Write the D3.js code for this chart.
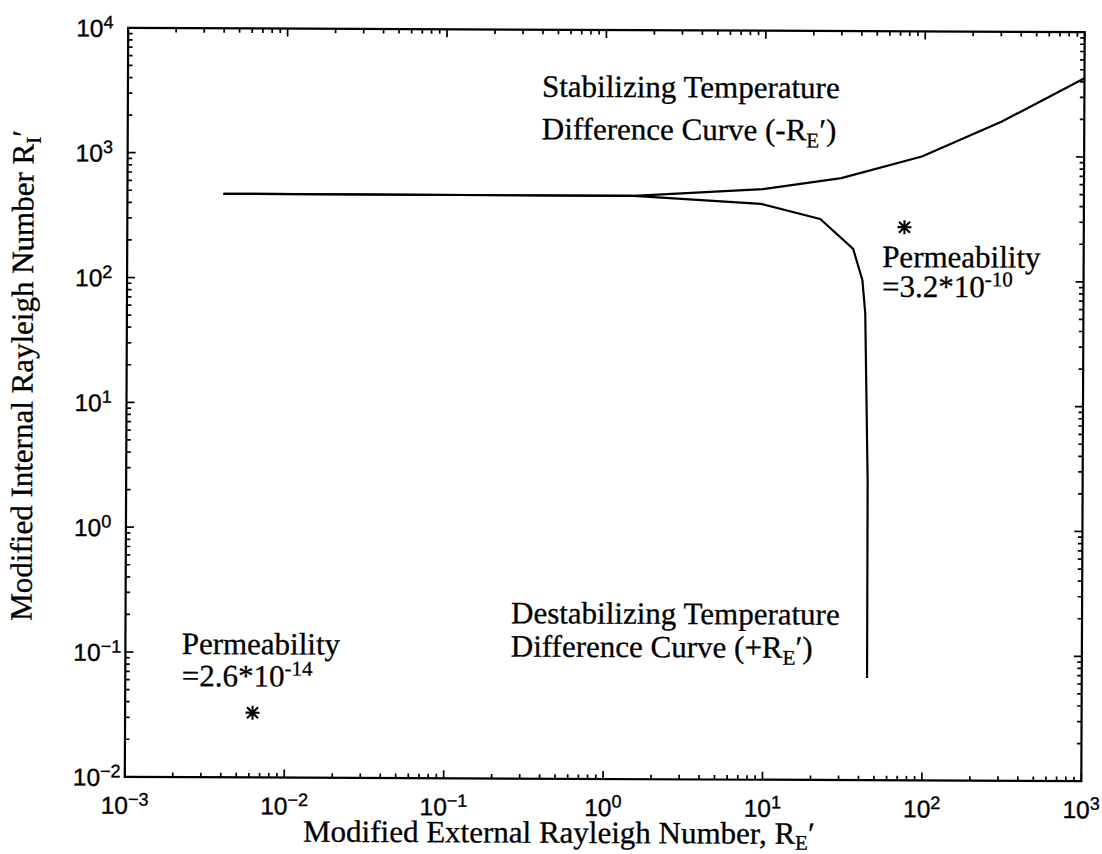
<!DOCTYPE html>
<html>
<head>
<meta charset="utf-8">
<script src="https://cdn.jsdelivr.net/npm/d3@7"></script>
<style>
  html, body { margin: 0; padding: 0; background: #fff; }
  svg { display: block; }
</style>
</head>
<body>
<script>
// Neutral-stability curves: modified internal vs. external Rayleigh number
const stabilizingRE = [0.004, 1.5, 9.7, 30, 96, 302, 1000];
const stabilizingRI = [472, 470, 538, 663, 995, 1900, 4280];

const destabilizingRE = [0.004, 1.5, 9.4, 22.2, 35.8, 41, 42.8, 44.8, 45];
const destabilizingRI = [472, 470, 410, 312, 180, 101, 55, 2.5, 0.066];

// Two permeability cases (star markers)
const caseRE = [75, 0.0063];
const caseRI = [270, 0.033];

// Decade exponents used for the tick labels
const xTickExponents = [-3, -2, -1, 0, 1, 2, 3];
const yTickExponents = [-2, -1, 0, 1, 2, 3, 4];

const W = 1102, H = 854;
const frame = { left: 126.5, right: 1083, top: 30, bottom: 779 };

const x = d3.scaleLog().domain([1e-3, 1e3]).range([frame.left, frame.right]);
const y = d3.scaleLog().domain([1e-2, 1e4]).range([frame.bottom, frame.top]);

const svg = d3.select("body").append("svg")
  .attr("width", W).attr("height", H)
  .style("background", "#fff");

// whole figure sits very slightly turned, like a scanned page
const g = svg.append("g").attr("transform", "rotate(0.26,604.75,404.5)");

const serif = "'Liberation Serif','Times New Roman',Times,serif";
const sans = "'Liberation Sans',Helvetica,Arial,sans-serif";

// ---- ticks (inward, on all four sides) ----
function minorValues(lo, hi) {
  const v = [];
  for (let e = lo; e < hi; e++) for (let m = 2; m <= 9; m++) v.push(m * Math.pow(10, e));
  return v;
}
const xMajor = xTickExponents.map(e => Math.pow(10, e));
const yMajor = yTickExponents.map(e => Math.pow(10, e));
const xMinor = minorValues(-3, 3);
const yMinor = minorValues(-2, 4);

const sides = [
  { make: d3.axisBottom, scale: x, major: xMajor, minor: xMinor, t: `translate(0,${frame.bottom})` },
  { make: d3.axisTop,    scale: x, major: xMajor, minor: xMinor, t: `translate(0,${frame.top})` },
  { make: d3.axisLeft,   scale: y, major: yMajor, minor: yMinor, t: `translate(${frame.left},0)` },
  { make: d3.axisRight,  scale: y, major: yMajor, minor: yMinor, t: `translate(${frame.right},0)` }
];
sides.forEach(s => {
  [[s.major, -8], [s.minor, -4.5]].forEach(([vals, len]) => {
    const ax = g.append("g").attr("transform", s.t)
      .call(s.make(s.scale).tickValues(vals).tickSize(len).tickFormat(() => "").offset(0));
    ax.select(".domain").remove();
    ax.selectAll(".tick line").attr("stroke", "#000").attr("stroke-width", 1.7);
  });
});

// ---- frame ----
g.append("rect")
  .attr("x", frame.left).attr("y", frame.top)
  .attr("width", frame.right - frame.left).attr("height", frame.bottom - frame.top)
  .attr("fill", "none").attr("stroke", "#000").attr("stroke-width", 2.2);

// ---- tick labels: 10 with exponent ----
const xl = g.append("g").attr("font-family", sans).attr("fill", "#000")
  .attr("stroke", "#000").attr("stroke-width", 0.35);
xTickExponents.forEach(e => {
  const t = xl.append("text")
    .attr("x", x(Math.pow(10, e))).attr("y", frame.bottom + 37)
    .attr("text-anchor", "middle").attr("font-size", 24.5);
  t.append("tspan").text("10");
  t.append("tspan").attr("dy", -8.5).attr("font-size", 18).text(String(e).replace("-", "\u2212"));
});
const yl = g.append("g").attr("font-family", sans).attr("fill", "#000")
  .attr("stroke", "#000").attr("stroke-width", 0.35);
yTickExponents.forEach(e => {
  const t = yl.append("text")
    .attr("x", frame.left - 52).attr("y", y(Math.pow(10, e)) + 9)
    .attr("text-anchor", "start").attr("font-size", 24.5);
  t.append("tspan").text("10");
  t.append("tspan").attr("dy", -8.5).attr("font-size", 18).text(String(e).replace("-", "\u2212"));
});

// ---- axis titles ----
const titles = g.append("g").attr("font-family", serif).attr("font-size", 31)
  .attr("fill", "#000").attr("stroke", "#000").attr("stroke-width", 0.3);

const xt = titles.append("text").attr("x", 305).attr("y", 843);
xt.append("tspan").text("Modified External Rayleigh Number, R");
xt.append("tspan").attr("dy", 6).attr("font-size", 21).text("E");
xt.append("tspan").attr("dy", -6).text("\u2032");

const yt = titles.append("text")
  .attr("transform", "translate(32.5,132.6) rotate(-90)")
  .attr("text-anchor", "end");
yt.append("tspan").text("Modified Internal Rayleigh Number R");
yt.append("tspan").attr("dy", 7).attr("font-size", 21).text("I");
yt.append("tspan").attr("dy", -7).text("\u2032");

// ---- curves ----
const line = d3.line().x(d => x(d[0])).y(d => y(d[1]));
const curves = [
  d3.zip(stabilizingRE, stabilizingRI),
  d3.zip(destabilizingRE, destabilizingRI)
];
g.selectAll("path.curve").data(curves).join("path")
  .attr("class", "curve")
  .attr("d", line)
  .attr("fill", "none").attr("stroke", "#000")
  .attr("stroke-width", 2.2).attr("stroke-linejoin", "round");

// ---- star markers ----
const r = 7, rd = 5.5;
const starPath = `M0,${-r}V${r}M${-r},0H${r}M${-rd},${-rd}L${rd},${rd}M${-rd},${rd}L${rd},${-rd}`;
g.selectAll("path.star").data(d3.zip(caseRE, caseRI)).join("path")
  .attr("class", "star")
  .attr("transform", d => `translate(${x(d[0])},${y(d[1])})`)
  .attr("d", starPath)
  .attr("fill", "none").attr("stroke", "#000").attr("stroke-width", 2.1);

// ---- annotations ----
const ann = g.append("g").attr("font-family", serif).attr("font-size", 31)
  .attr("fill", "#000").attr("stroke", "#000").attr("stroke-width", 0.3);

ann.append("text").attr("x", 540.6).attr("y", 97).text("Stabilizing Temperature");
const a2 = ann.append("text").attr("x", 540.6).attr("y", 139.5);
a2.append("tspan").text("Difference Curve (-R");
a2.append("tspan").attr("dy", 7).attr("font-size", 21).text("E");
a2.append("tspan").attr("dy", -7).text("\u2032)");

ann.append("text").attr("x", 881.5).attr("y", 265.8).text("Permeability");
const a4 = ann.append("text").attr("x", 881.5).attr("y", 295.5);
a4.append("tspan").text("=3.2*10");
a4.append("tspan").attr("dy", -11).attr("font-size", 21).text("-10");

ann.append("text").attr("x", 512).attr("y", 623.7).text("Destabilizing Temperature");
const a6 = ann.append("text").attr("x", 512).attr("y", 657);
a6.append("tspan").text("Difference Curve (+R");
a6.append("tspan").attr("dy", 7).attr("font-size", 21).text("E");
a6.append("tspan").attr("dy", -7).text("\u2032)");

ann.append("text").attr("x", 182.8).attr("y", 655.9).text("Permeability");
const a8 = ann.append("text").attr("x", 183).attr("y", 688);
a8.append("tspan").text("=2.6*10");
a8.append("tspan").attr("dy", -11).attr("font-size", 21).text("-14");
</script>
</body>
</html>
